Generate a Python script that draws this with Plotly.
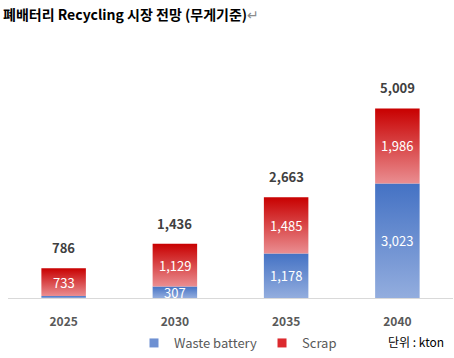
import plotly.graph_objects as go

years = ["2025", "2030", "2035", "2040"]
waste = [53, 307, 1178, 3023]
scrap = [733, 1129, 1485, 1986]
totals = [786, 1436, 2663, 5009]

BLUE_SCALE = [[0, "#93ADDE"], [1, "#4472C4"]]
RED_SCALE = [[0, "#EA8E91"], [1, "#C80000"]]
HALF = 0.2
FONT = "Noto Sans CJK KR"

W, H = 454, 358
L, R, T, B = 8, 1, 40, 59
pw, ph = W - L - R, H - T - B


def px_x(x):
    return (x - L) / pw


def px_y(y):
    return (H - B - y) / ph


fig = go.Figure()

annotations = []
for i, (w, s, t) in enumerate(zip(waste, scrap, totals)):
    segs = [(0, w, BLUE_SCALE, w), (w, w + s, RED_SCALE, s)]
    for b, top, scale, val in segs:
        fig.add_trace(go.Scatter(
            x=[i - HALF, i + HALF, i + HALF, i - HALF, i - HALF],
            y=[b, b, top, top, b],
            mode="lines", fill="toself",
            line=dict(width=0, color="rgba(0,0,0,0)"),
            fillgradient=dict(type="vertical", colorscale=scale),
            showlegend=False, hoverinfo="skip"))
        if val >= 100:
            annotations.append(dict(x=i, y=(b + top) / 2, xref="x", yref="y",
                                    text=f"{val:,}", showarrow=False,
                                    font=dict(family=FONT, size=13, color="white")))
    annotations.append(dict(x=i, y=t, xref="x", yref="y", text=f"<b>{t:,}</b>",
                            showarrow=False, yanchor="bottom", yshift=9,
                            font=dict(family=FONT, size=13, color="#404040")))

# legend entries
fig.add_trace(go.Scatter(x=[None], y=[None], mode="markers", name="Waste battery",
                         marker=dict(symbol="square", size=9, color="#6E90D2")))
fig.add_trace(go.Scatter(x=[None], y=[None], mode="markers", name="Scrap",
                         marker=dict(symbol="square", size=9, color="#DC2A2E")))

annotations.append(dict(x=px_x(446), y=px_y(343), xref="paper", yref="paper",
                        text="단위 : kton", showarrow=False,
                        xanchor="right", yanchor="middle",
                        font=dict(family=FONT, size=12, color="#000000")))

fig.update_layout(
    width=W, height=H,
    margin=dict(l=L, r=R, t=T, b=B),
    paper_bgcolor="white", plot_bgcolor="white",
    title=dict(text="<b>폐배터리 Recycling 시장 전망 (무게기준)</b><span style='color:#8C8C8C'>↵</span>",
               x=3 / W, xanchor="left", y=1 - 15 / H, yanchor="middle",
               font=dict(family=FONT, size=14, color="#000000")),
    xaxis=dict(range=[-0.5, 3.5], tickmode="array", tickvals=list(range(len(years))),
               ticktext=[f"<b>{y}</b>" for y in years], showgrid=False, zeroline=False,
               showline=True, linecolor="#D9D9D9", linewidth=1, ticks="",
               ticklabelstandoff=13,
               tickfont=dict(family=FONT, size=12, color="#595959"), fixedrange=True),
    yaxis=dict(range=[0, 6816], visible=False, showgrid=False, zeroline=False),
    showlegend=True,
    legend=dict(orientation="h", x=px_x(134), y=px_y(343),
                xanchor="left", yanchor="middle", itemwidth=30,
                font=dict(family=FONT, size=13, color="#595959"),
                bgcolor="rgba(0,0,0,0)"),
    annotations=annotations,
)

fig.write_html("out.html", config={"displayModeBar": False},
               post_script="document.body.style.margin='0';document.body.style.padding='0';")
